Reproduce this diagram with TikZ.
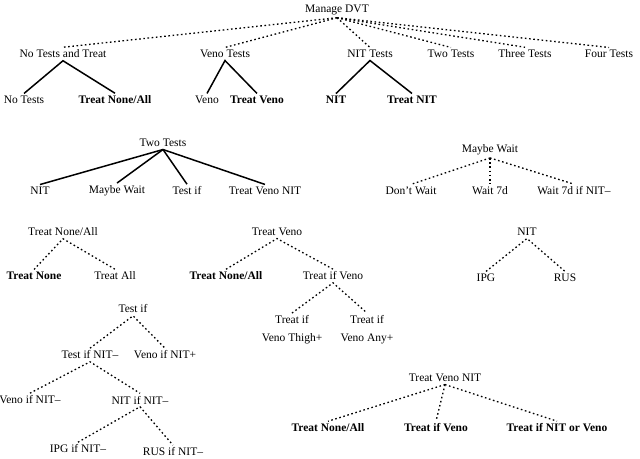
\documentclass[tikz,border=0pt]{standalone}
\usepackage{fontspec}
\setmainfont{Liberation Serif}
\begin{document}
\begin{tikzpicture}[x=1pt,y=-1pt,
  t/.style={inner sep=2.5pt,font=\fontsize{11.5}{12}\selectfont},
  b/.style={t,font=\fontsize{11.5}{12}\selectfont\bfseries},
  dt/.style={line width=1.3pt,dash pattern=on 1.6pt off 2.6pt},
  sl/.style={line width=1.5pt}]
\useasboundingbox (0,0) rectangle (640,458);
% top
\node[t] (root) at (337,10) {Manage DVT};
\node[t] (a1) at (63,54) {No Tests and Treat};
\node[t] (a2) at (225,54) {Veno Tests};
\node[t] (a3) at (370,54) {NIT Tests};
\node[t] (a4) at (451,54) {Two Tests};
\node[t] (a5) at (525,54) {Three Tests};
\node[t] (a6) at (609,54) {Four Tests};
\foreach \c in {a1,a2,a3,a4,a5,a6} \draw[dt] (root.south) -- (\c.north);
\node[t] (b1) at (24,100) {No Tests};
\node[b] (b2) at (115,100) {Treat None/All};
\node[t] (b3) at (207,100) {Veno};
\node[b] (b4) at (257,100) {Treat Veno};
\node[b] (b5) at (336,100) {NIT};
\node[b] (b6) at (412,100) {Treat NIT};
\draw[sl] (b1.north) -- (a1.south) -- (b2.north);
\draw[sl] (b3.north) -- (a2.south) -- (b4.north);
\draw[sl] (b5.north) -- (a3.south) -- (b6.north);
% Two tests
\node[t] (c) at (163,143) {Two Tests};
\node[t] (c1) at (40,191) {NIT};
\node[t] (c2) at (117,191) {Maybe Wait};
\node[t] (c3) at (187,191) {Test if};
\node[t] (c4) at (265,191) {Treat Veno NIT};
\foreach \k in {c1,c2,c3,c4} \draw[sl] (c.south) -- (\k.north);
% Maybe wait
\node[t] (m) at (490,150) {Maybe Wait};
\node[t] (m1) at (411,191) {Don't Wait};
\node[t] (m2) at (490,191) {Wait 7d};
\node[t] (m3) at (574,191) {Wait 7d if NIT--};
\foreach \k in {m1,m2,m3} \draw[dt] (m.south) -- (\k.north);
% Treat None/All
\node[t] (n) at (63,232) {Treat None/All};
\node[b] (n1) at (34,276) {Treat None};
\node[t] (n2) at (115,276) {Treat All};
\draw[dt] (n1.north) -- (n.south) -- (n2.north);
% Treat Veno
\node[t] (v) at (277,232) {Treat Veno};
\node[b] (v1) at (226,276) {Treat None/All};
\node[t] (v2) at (333,276) {Treat if Veno};
\draw[dt] (v1.north) -- (v.south) -- (v2.north);
\node[t,align=center] (v3) at (292,330) {Treat if\\[6pt]Veno Thigh+};
\node[t,align=center] (v4) at (367,330) {Treat if\\[6pt]Veno Any+};
\draw[dt] (v3.north) -- (v2.south) -- (v4.north);
% NIT
\node[t] (p) at (527,232) {NIT};
\node[t] (p1) at (486,278) {IPG};
\node[t] (p2) at (565,278) {RUS};
\draw[dt] (p1.north) -- (p.south) -- (p2.north);
% Test if
\node[t] (q) at (133,309) {Test if};
\node[t] (q1) at (90,355) {Test if NIT--};
\node[t] (q2) at (165,355) {Veno if NIT+};
\draw[dt] (q1.north) -- (q.south) -- (q2.north);
\node[t] (q3) at (30,400) {Veno if NIT--};
\node[t] (q4) at (140,400) {NIT if NIT--};
\draw[dt] (q3.north) -- (q1.south) -- (q4.north);
\node[t] (q5) at (78,449) {IPG if NIT--};
\node[t] (q6) at (173,452) {RUS if NIT--};
\draw[dt] (q5.north) -- (q4.south) -- (q6.north);
% Treat Veno NIT
\node[t] (r) at (445,378) {Treat Veno NIT};
\node[b] (r1) at (328,428) {Treat None/All};
\node[b] (r2) at (436,428) {Treat if Veno};
\node[b] (r3) at (557,428) {Treat if NIT or Veno};
\foreach \k in {r1,r2,r3} \draw[dt] (r.south) -- (\k.north);
\end{tikzpicture}
\end{document}
